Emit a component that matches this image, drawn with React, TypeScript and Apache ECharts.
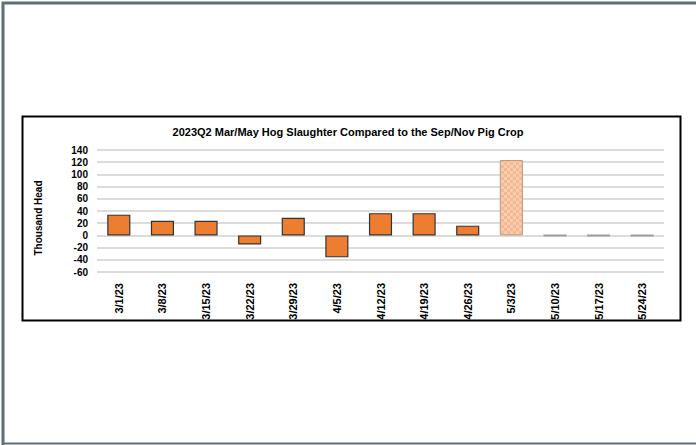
import React, { useEffect, useRef } from "react";
import * as echarts from "echarts";

// Weekly hog slaughter difference vs. the Sep/Nov pig crop (thousand head)
const weeks = [
  "3/1/23", "3/8/23", "3/15/23", "3/22/23", "3/29/23", "4/5/23", "4/12/23",
  "4/19/23", "4/26/23", "5/3/23", "5/10/23", "5/17/23", "5/24/23",
];
const difference = [34, 24, 24, -15, 29, -36, 36.5, 36.5, 16, 123.5, 0, 0, 0];
// "actual" = reported week, "estimate" = partial-week estimate, "pending" = no data yet
const status = [
  "actual", "actual", "actual", "actual", "actual", "actual", "actual",
  "actual", "actual", "estimate", "pending", "pending", "pending",
];
const yTicks = { min: -60, max: 140, step: 20 };

const TITLE = "2023Q2 Mar/May Hog Slaughter Compared to the Sep/Nov Pig Crop";
const FONT = "'Liberation Sans', sans-serif";

function checkerPattern(): string {
  const c = document.createElement("canvas");
  c.width = 6;
  c.height = 6;
  const ctx = c.getContext("2d")!;
  ctx.fillStyle = "#F9CCAD";
  ctx.fillRect(0, 0, 6, 6);
  ctx.fillStyle = "#F5B991";
  ctx.fillRect(0, 0, 3, 3);
  ctx.fillRect(3, 3, 3, 3);
  return c.toDataURL();
}

export default function App() {
  const ref = useRef<HTMLDivElement>(null);

  useEffect(() => {
    if (!ref.current) return;
    const chart = echarts.init(ref.current, null, { renderer: "svg" });
    const pattern = checkerPattern();

    const data = difference.map((v, i) => {
      const s = status[i];
      if (s === "estimate") {
        return {
          value: v,
          itemStyle: {
            color: { image: pattern, repeat: "repeat" } as any,
            borderColor: "#B89880",
            borderWidth: 1,
          },
        };
      }
      if (s === "pending") {
        return {
          value: v,
          itemStyle: { color: "#9E9E9E", borderColor: "#9E9E9E", borderWidth: 2 },
        };
      }
      return {
        value: v,
        itemStyle: { color: "#ED7D31", borderColor: "#333333", borderWidth: 1.2 },
      };
    });

    chart.setOption({
      animation: false,
      backgroundColor: "#ffffff",
      graphic: [
        {
          type: "polyline",
          shape: { points: [[3, 445], [3, 3], [696, 3]] },
          style: { stroke: "#5F6E7A", lineWidth: 3, fill: "none" },
          silent: true,
        },
        {
          type: "line",
          shape: { x1: 2, y1: 443.5, x2: 696, y2: 443.5 },
          style: { stroke: "#5F6E7A", lineWidth: 2 },
          silent: true,
        },
        {
          type: "rect",
          shape: { x: 22.5, y: 116.5, width: 658, height: 204 },
          style: { stroke: "#000000", lineWidth: 2, fill: "none" },
          silent: true,
        },
        {
          type: "text",
          x: 38,
          y: 218,
          rotation: Math.PI / 2,
          style: {
            text: "Thousand Head",
            font: `bold 10px ${FONT}`,
            fill: "#000000",
            align: "center",
            verticalAlign: "middle",
          },
          silent: true,
        },
      ],
      title: {
        text: TITLE,
        left: "center",
        top: 121,
        textStyle: {
          fontFamily: FONT,
          fontWeight: "bold",
          fontSize: 11,
          color: "#000000",
        },
      },
      grid: { left: 97, right: 32, top: 150, bottom: 173, containLabel: false },
      xAxis: {
        type: "category",
        data: weeks,
        axisLine: { show: false, onZero: false },
        axisTick: { show: false },
        axisLabel: {
          rotate: 90,
          margin: 11,
          interval: 0,
          fontFamily: FONT,
          fontWeight: "bold",
          fontSize: 11,
          color: "#000000",
        },
      },
      yAxis: {
        type: "value",
        min: yTicks.min,
        max: yTicks.max,
        interval: yTicks.step,
        axisLine: { show: false },
        axisTick: { show: false },
        axisLabel: {
          margin: 9,
          fontFamily: FONT,
          fontWeight: "bold",
          fontSize: 10,
          color: "#000000",
        },
        splitLine: { lineStyle: { color: "#D0D0D0", width: 1.5 } },
      },
      series: [
        {
          type: "bar",
          data,
          barCategoryGap: "47%",
        },
      ],
    });

    return () => chart.dispose();
  }, []);

  return (
    <div
      ref={ref}
      style={{ position: "fixed", left: 0, top: 0, width: 696, height: 445 }}
    />
  );
}
